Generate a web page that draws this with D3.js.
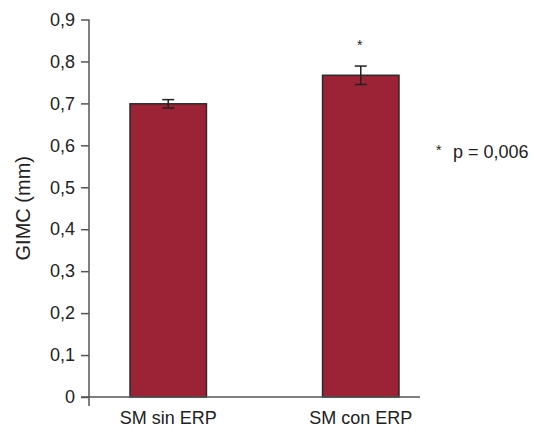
<!DOCTYPE html>
<html>
<head>
<meta charset="utf-8">
<script src="https://cdn.jsdelivr.net/npm/d3@7"></script>
<style>
  body { margin: 0; background: #fff; }
  svg text { font-family: "Liberation Sans", Arial, Helvetica, sans-serif; fill: #222; }
  .axis line, .axis-line { stroke: #555; stroke-width: 1.5; }
</style>
</head>
<body>
<div id="chart"></div>
<script>
// Chart data
var categories = ["SM sin ERP", "SM con ERP"];
var means = [0.699, 0.767];
var errors = [0.010, 0.022];
var yTicks = [0, 0.1, 0.2, 0.3, 0.4, 0.5, 0.6, 0.7, 0.8, 0.9];

var width = 533;
var height = 428;

var svg = d3.select("#chart")
  .append("svg")
  .attr("width", width)
  .attr("height", height);

// Scales
var yScale = d3.scaleLinear()
  .domain([0, 0.9])
  .range([397, 19.5]);

var xScale = d3.scaleBand()
  .domain(categories)
  .range([89, 440])
  .paddingInner(0.603)
  .paddingOuter(0.213);

var fmt = function(d) {
  return d === 0 ? "0" : d3.format(".1f")(d).replace(".", ",");
};

// Bars
svg.append("g")
  .attr("class", "bars")
  .selectAll("rect")
  .data(means)
  .enter()
  .append("rect")
  .attr("x", (d, i) => xScale(categories[i]))
  .attr("y", d => yScale(d))
  .attr("width", xScale.bandwidth())
  .attr("height", d => yScale(0) - yScale(d))
  .attr("fill", "#9b2335")
  .attr("stroke", "#2a2a2a")
  .attr("stroke-width", 1.5);

// Error bars
var errG = svg.append("g")
  .attr("class", "errors")
  .selectAll("g")
  .data(means)
  .enter()
  .append("g")
  .attr("stroke", "#222")
  .attr("stroke-width", 1.5);

var cx = i => xScale(categories[i]) + xScale.bandwidth() / 2;

errG.append("line")
  .attr("x1", (d, i) => cx(i))
  .attr("x2", (d, i) => cx(i))
  .attr("y1", (d, i) => yScale(d + errors[i]))
  .attr("y2", (d, i) => yScale(d - errors[i]));
errG.append("line")
  .attr("x1", (d, i) => cx(i) - 6)
  .attr("x2", (d, i) => cx(i) + 6)
  .attr("y1", (d, i) => yScale(d + errors[i]))
  .attr("y2", (d, i) => yScale(d + errors[i]));
errG.append("line")
  .attr("x1", (d, i) => cx(i) - 6)
  .attr("x2", (d, i) => cx(i) + 6)
  .attr("y1", (d, i) => yScale(d - errors[i]))
  .attr("y2", (d, i) => yScale(d - errors[i]));

// Y axis
var yAxis = d3.axisLeft(yScale)
  .tickValues(yTicks)
  .tickSize(8)
  .tickPadding(6)
  .tickFormat(fmt);

var yG = svg.append("g")
  .attr("class", "axis y")
  .attr("transform", "translate(89,0)")
  .call(yAxis);
yG.select(".domain").remove();
yG.selectAll("text")
  .style("font-size", "18px")
  .attr("fill", "#222");

svg.append("line")
  .attr("class", "axis-line")
  .attr("x1", 89).attr("x2", 89)
  .attr("y1", yScale(0.9)).attr("y2", 406);

// X axis line
svg.append("line")
  .attr("class", "axis-line")
  .attr("x1", 81).attr("x2", 420)
  .attr("y1", yScale(0)).attr("y2", yScale(0));

// Category labels
svg.append("g")
  .selectAll("text")
  .data(categories)
  .enter()
  .append("text")
  .attr("x", d => xScale(d) + xScale.bandwidth() / 2)
  .attr("y", 424)
  .attr("text-anchor", "middle")
  .style("font-size", "18px")
  .text(d => d);

// Axis title
svg.append("text")
  .attr("transform", "translate(30," + (yScale(0.45)) + ") rotate(-90)")
  .attr("text-anchor", "middle")
  .style("font-size", "20px")
  .text("GIMC (mm)");

// Significance marks
svg.append("text")
  .attr("x", cx(1) - 1)
  .attr("y", 50)
  .attr("text-anchor", "middle")
  .style("font-size", "14px")
  .text("*");

svg.append("text")
  .attr("x", 436)
  .attr("y", 155)
  .style("font-size", "14px")
  .text("*");

svg.append("text")
  .attr("x", 453)
  .attr("y", 158)
  .style("font-size", "18px")
  .text("p = 0,006");
</script>
</body>
</html>
